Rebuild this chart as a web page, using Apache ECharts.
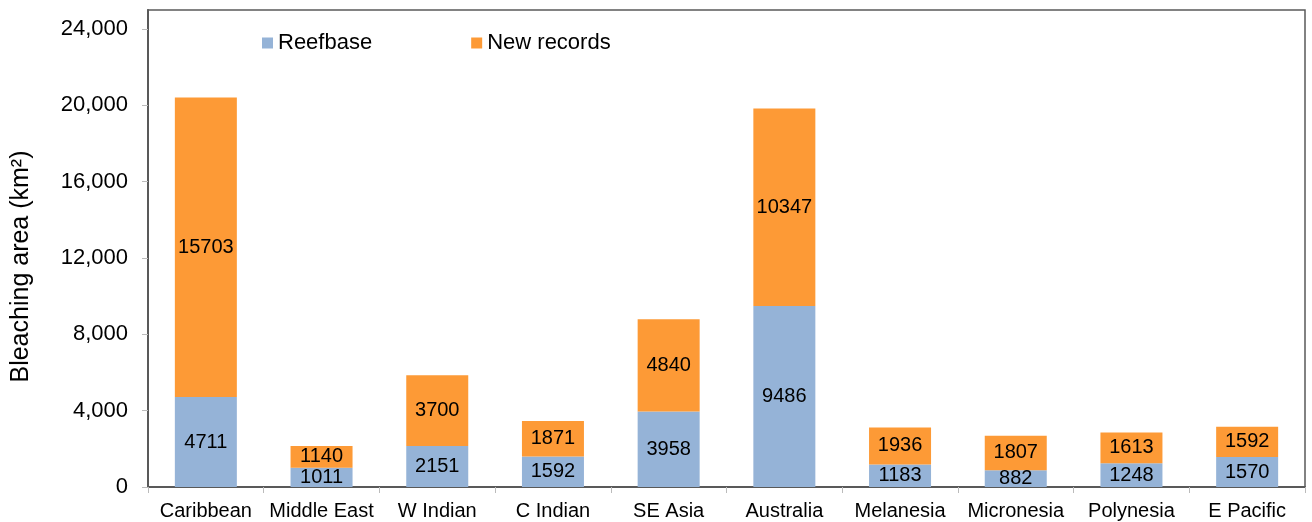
<!DOCTYPE html>
<html>
<head>
<meta charset="utf-8">
<script src="https://cdn.jsdelivr.net/npm/echarts@6/dist/echarts.min.js"></script>
<style>
  html, body { margin: 0; padding: 0; background: #fff; }
  #chart { width: 1312px; height: 522px; }
</style>
</head>
<body>
<div id="chart"></div>
<script>
// regions along the x axis
const regions = ['Caribbean', 'Middle East', 'W Indian', 'C Indian', 'SE Asia',
  'Australia', 'Melanesia', 'Micronesia', 'Polynesia', 'E Pacific'];
// bleaching area, km2
const reefbase = [4711, 1011, 2151, 1592, 3958, 9486, 1183, 882, 1248, 1570];
const newRecords = [15703, 1140, 3700, 1871, 4840, 10347, 1936, 1807, 1613, 1592];
const yTicks = [0, 4000, 8000, 12000, 16000, 20000, 24000];

const font = 'Arial, "Liberation Sans", sans-serif';
const axisGrey = '#595959';

const barLabel = {
  show: true,
  position: 'inside',
  color: '#000',
  fontSize: 20,
  fontFamily: font
};

let myChart = echarts.init(document.getElementById('chart'));
myChart.setOption({
  animation: false,
  textStyle: { fontFamily: font },
  grid: {
    left: 148, right: 7, top: 10, bottom: 35,
    show: true, borderColor: axisGrey, borderWidth: 1.5,
    containLabel: false
  },
  legend: {
    top: 27, left: 257,
    itemWidth: 11, itemHeight: 11, itemGap: 99,
    icon: 'rect',
    textStyle: { fontSize: 22, color: '#000', fontFamily: font },
    data: ['Reefbase', 'New records']
  },
  xAxis: {
    type: 'category',
    data: regions,
    axisLine: { lineStyle: { color: axisGrey, width: 2 } },
    axisTick: { show: true, length: 6, lineStyle: { color: '#bbb' } },
    axisLabel: { interval: 0, color: '#000', fontSize: 20, margin: 14, fontFamily: font }
  },
  yAxis: {
    type: 'value',
    min: 0, max: 25000, interval: 4000,
    name: 'Bleaching area (km²)',
    nameLocation: 'middle',
    nameGap: 114,
    nameTextStyle: { fontSize: 25, color: '#000', fontFamily: font, padding: [0, 36, 0, 0] },
    axisLine: { show: true, lineStyle: { color: axisGrey, width: 2 } },
    axisTick: { show: true, length: 6, customValues: yTicks, lineStyle: { color: '#bbb' } },
    splitLine: { show: false },
    axisLabel: {
      customValues: yTicks,
      color: '#000', fontSize: 22, margin: 20, fontFamily: font,
      formatter: v => v.toLocaleString('en-US')
    }
  },
  series: [
    {
      name: 'Reefbase', type: 'bar', stack: 'area',
      data: reefbase, barWidth: 62,
      itemStyle: { color: '#95B3D7' },
      label: barLabel
    },
    {
      name: 'New records', type: 'bar', stack: 'area',
      data: newRecords, barWidth: 62,
      itemStyle: { color: '#FD9A36' },
      label: barLabel
    }
  ]
});
</script>
</body>
</html>
